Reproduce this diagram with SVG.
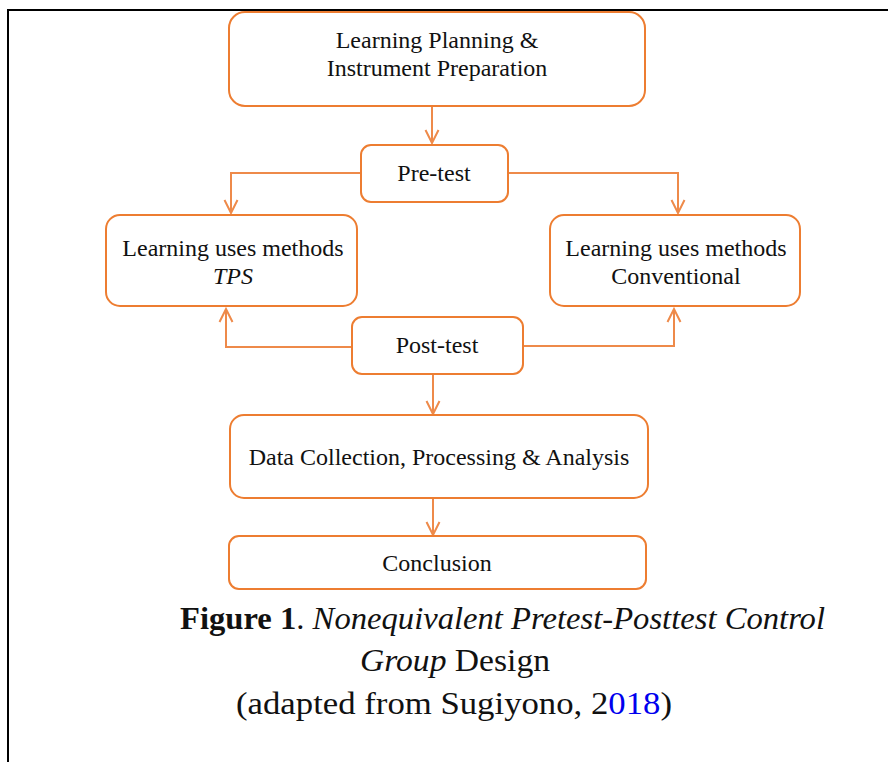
<svg xmlns="http://www.w3.org/2000/svg" width="888" height="762" viewBox="0 0 888 762">
<defs>
<style>
.box{fill:#fff;stroke:#ED7D31;stroke-width:2}
.ln{fill:none;stroke:#EE8A4A;stroke-width:2}
.t{font-family:"Liberation Serif","DejaVu Serif",serif;font-size:24px;fill:#111;text-anchor:middle}
.cap{font-family:"Liberation Serif","DejaVu Serif",serif;font-size:32px;fill:#111}
</style>
<marker id="ah" markerWidth="16" markerHeight="16" refX="14" refY="8" orient="auto" markerUnits="userSpaceOnUse" viewBox="0 0 16 16">
<path d="M1,1.5 L14,8 L1,14.5" fill="none" stroke="#EE8A4A" stroke-width="2"/>
</marker>
</defs>
<rect width="888" height="762" fill="#fff"/>
<path d="M888,10 H8 V762" fill="none" stroke="#000" stroke-width="2"/>
<g id="connectors">
<path class="ln" d="M432,106 V143" marker-end="url(#ah)"/>
<path class="ln" d="M361,173 H231 V213" marker-end="url(#ah)"/>
<path class="ln" d="M508,173 H678 V213" marker-end="url(#ah)"/>
<path class="ln" d="M352,347 H226 V309" marker-end="url(#ah)"/>
<path class="ln" d="M523,346 H674 V309" marker-end="url(#ah)"/>
<path class="ln" d="M433,374 V414" marker-end="url(#ah)"/>
<path class="ln" d="M433,498 V535" marker-end="url(#ah)"/>
</g>
<g id="n1"><rect class="box" x="229" y="12" width="416" height="94" rx="16"/>
<text class="t" x="437" y="48">Learning Planning &amp;</text>
<text class="t" x="437" y="76">Instrument Preparation</text></g>
<g id="n2"><rect class="box" x="361" y="145" width="147" height="57" rx="10"/>
<text class="t" x="434" y="181">Pre-test</text></g>
<g id="n3"><rect class="box" x="106" y="215" width="251" height="91" rx="14"/>
<text class="t" x="233" y="256">Learning uses methods</text>
<text class="t" x="233" y="284" font-style="italic">TPS</text></g>
<g id="n4"><rect class="box" x="550" y="215" width="250" height="91" rx="14"/>
<text class="t" x="676" y="256">Learning uses methods</text>
<text class="t" x="676" y="284">Conventional</text></g>
<g id="n5"><rect class="box" x="352" y="317" width="171" height="57" rx="10"/>
<text class="t" x="437" y="353">Post-test</text></g>
<g id="n6"><rect class="box" x="230" y="415" width="418" height="83" rx="14"/>
<text class="t" x="439" y="465">Data Collection, Processing &amp; Analysis</text></g>
<g id="n7"><rect class="box" x="229" y="536" width="417" height="53" rx="10"/>
<text class="t" x="437" y="571">Conclusion</text></g>
<text class="cap" x="180" y="629" textLength="645" lengthAdjust="spacingAndGlyphs"><tspan font-weight="bold">Figure 1</tspan>. <tspan font-style="italic">Nonequivalent Pretest-Posttest Control</tspan></text>
<text class="cap" x="360" y="671" textLength="190" lengthAdjust="spacingAndGlyphs"><tspan font-style="italic">Group</tspan> Design</text>
<text class="cap" x="236" y="714" textLength="436" lengthAdjust="spacingAndGlyphs">(adapted from Sugiyono, 2<tspan fill="#0000EE">018</tspan>)</text>
</svg>
